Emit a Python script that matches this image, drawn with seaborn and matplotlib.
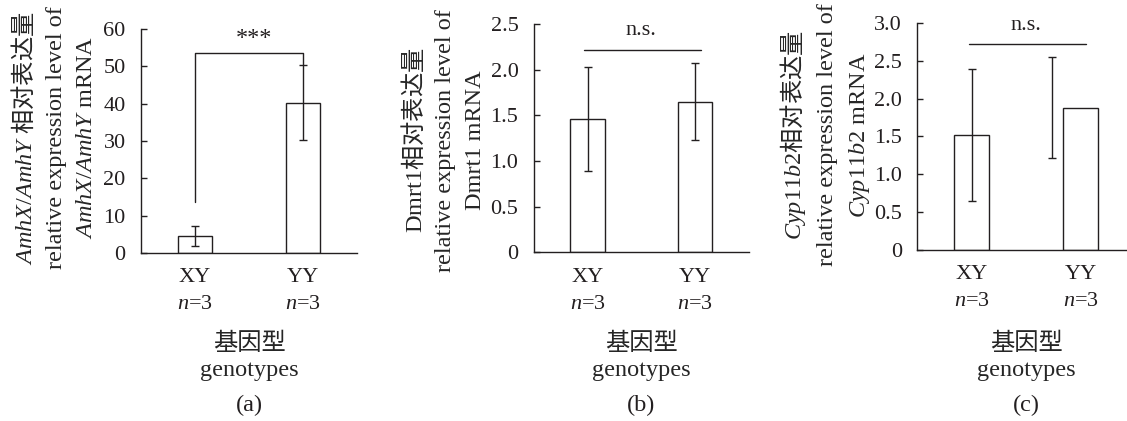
import numpy as np
import pandas as pd
import matplotlib
matplotlib.use('Agg')
import matplotlib.pyplot as plt
import matplotlib.transforms as mtransforms
import seaborn as sns

# data (mean and error bar half-length)
genotypes = ['XY', 'YY']
sample_n = [3, 3]

amh_mean = [4.6, 40.3]
amh_err = [2.7, 10.1]

dmrt1_mean = [1.46, 1.65]
dmrt1_err = [0.57, 0.42]

cyp_mean = [1.52, 1.88]
cyp_err = [0.87, 0.67]
cyp_err_shift = [0.0, -0.26]   # the YY error bar sits left of its bar in the original

amh_ticks = [0, 10, 20, 30, 40, 50, 60]
dmrt1_ticks = [0, 0.5, 1.0, 1.5, 2.0, 2.5]
cyp_ticks = [0, 0.5, 1.0, 1.5, 2.0, 2.5, 3.0]

ink = '#231f20'

sns.set_theme(style='ticks')
plt.rcParams['font.family'] = ['Liberation Serif', 'Noto Sans CJK SC']
plt.rcParams['mathtext.fontset'] = 'custom'
plt.rcParams['mathtext.rm'] = 'Liberation Serif'
plt.rcParams['mathtext.it'] = 'Liberation Serif:italic'
plt.rcParams['mathtext.sf'] = 'Noto Sans CJK SC'
plt.rcParams['font.size'] = 16
plt.rcParams['text.color'] = ink
plt.rcParams['axes.edgecolor'] = ink
plt.rcParams['xtick.color'] = ink
plt.rcParams['ytick.color'] = ink

fig = plt.figure(figsize=(11.27, 4.21), dpi=100)

ax_a = fig.add_axes([0.1251, 0.399, 0.1917, 0.532])
ax_b = fig.add_axes([0.4736, 0.4007, 0.1910, 0.5423])
ax_c = fig.add_axes([0.8137, 0.406, 0.1934, 0.540])


def draw_panel(ax, means, errs, shift, ticks, ylabel, label_x, label_y, tag, fmt):
    df = pd.DataFrame({'genotype': genotypes, 'value': means})
    sns.barplot(data=df, x='genotype', y='value', color='white', edgecolor=ink,
                linewidth=1.0, width=0.32, errorbar=None, ax=ax)
    ax.errorbar(np.arange(len(means)) + np.array(shift), means, yerr=errs, fmt='none',
                ecolor=ink, elinewidth=1.0, capsize=3, capthick=1.0)
    ax.set_xlim(-0.5, 1.5)
    ax.set_ylim(ticks[0], ticks[-1])
    ax.set_yticks(ticks)
    ax.set_yticklabels([fmt(t) for t in ticks])
    ax.set_xticks(range(len(genotypes)))
    ax.set_xticklabels([g + '\n$\\mathit{n}$=' + str(n) for g, n in zip(genotypes, sample_n)],
                       linespacing=1.58)
    ax.tick_params(axis='x', length=0, pad=11, labelsize=16)
    ax.tick_params(axis='y', direction='in', length=4, width=1.0, pad=11, labelsize=16)
    for s in ['left', 'bottom']:
        ax.spines[s].set_linewidth(1.0)
    sns.despine(ax=ax)
    ax.set_ylabel(ylabel, va='center', ha='center', linespacing=1.55, fontsize=17.5)
    ax.yaxis.set_label_coords(label_x, label_y)
    # x label and panel tag at fixed figure heights
    mixed = mtransforms.blended_transform_factory(ax.transAxes, fig.transFigure)
    ax.set_xlabel('基因型\ngenotypes', va='center', ha='center', linespacing=1.3, fontsize=17.5)
    ax.xaxis.set_label_coords(0.5, 0.152, transform=mixed)
    ax.text(0.5, 0.038, tag, transform=mixed, ha='center', va='center', fontsize=17.5)


def one_decimal(v):
    return '0' if v == 0 else '%.1f' % v


draw_panel(ax_a, amh_mean, amh_err, [0, 0], amh_ticks,
           '$\\mathit{AmhX/AmhY}$ $\\mathsf{相对表达量}$\nrelative expression level of\n$\\mathit{AmhX/AmhY}$ mRNA',
           -0.403, 0.515, '(a)', lambda v: '%d' % v)
draw_panel(ax_b, dmrt1_mean, dmrt1_err, [0, 0], dmrt1_ticks,
           'Dmrt1$\\mathsf{相对表达量}$\nrelative expression level of\nDmrt1 mRNA',
           -0.421, 0.49, '(b)', one_decimal)
draw_panel(ax_c, cyp_mean, cyp_err, cyp_err_shift, cyp_ticks,
           '$\\mathit{Cyp}$11$\\mathit{b}$2$\\mathsf{相对表达量}$\nrelative expression level of\n$\\mathit{Cyp}$11$\\mathit{b}$2 mRNA',
           -0.422, 0.506, '(c)', one_decimal)

# significance marks
amh_bar_y, amh_left_low, amh_right_low, amh_star_y = 53.7, 13.6, 50.3, 56.0
ax_a.plot([0, 0, 1, 1], [amh_left_low, amh_bar_y, amh_bar_y, amh_right_low], color=ink, lw=1.0, clip_on=False)
ax_a.text(0.55, amh_star_y, '***', ha='center', va='baseline', fontsize=17.5, clip_on=False)

dmrt1_bar_y, dmrt1_txt_y = 2.22, 2.38
ax_b.plot([-0.03, 1.055], [dmrt1_bar_y, dmrt1_bar_y], color=ink, lw=1.0, clip_on=False)
ax_b.text(0.5, dmrt1_txt_y, 'n.s.', ha='center', va='baseline', fontsize=16)

cyp_bar_y, cyp_txt_y = 2.72, 2.91
ax_c.plot([-0.02, 1.05], [cyp_bar_y, cyp_bar_y], color=ink, lw=1.0, clip_on=False)
ax_c.text(0.5, cyp_txt_y, 'n.s.', ha='center', va='baseline', fontsize=16)

fig.savefig('out.png', dpi=100)
